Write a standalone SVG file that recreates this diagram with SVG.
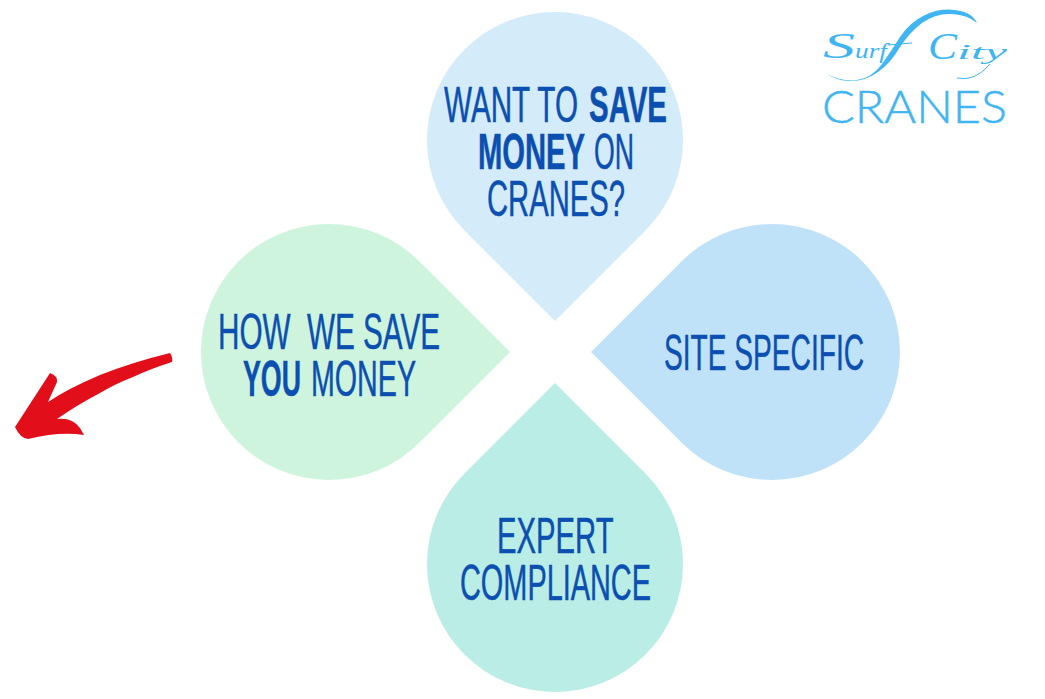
<svg xmlns="http://www.w3.org/2000/svg" width="1045" height="699" viewBox="0 0 1045 699">
<style>
.t{font-family:"Liberation Sans",Arial,sans-serif;font-size:50px;fill:#0b4fb1;stroke:#0b4fb1;stroke-width:.5px}
.b{font-weight:700}
.logo{fill:#3fb5f1}
.s{font-family:"Liberation Serif","Times New Roman",serif;font-style:italic;fill:#3fb5f1}
.l{fill:none;stroke:#3fb5f1;stroke-width:1}
</style>
<rect width="1045" height="699" fill="#ffffff"/>
<g id="node-top">
<path d="M555 321 L464.500 230.500 A128 128 0 1 1 645.500 230.500 Z" fill="#d4ebfa"/>
<text class="t"><tspan x="444" y="122" textLength="134" lengthAdjust="spacingAndGlyphs">WANT TO</tspan> <tspan class="b" x="589" y="122" textLength="78" lengthAdjust="spacingAndGlyphs">SAVE</tspan> <tspan class="b" x="478" y="169" textLength="107" lengthAdjust="spacingAndGlyphs">MONEY</tspan> <tspan x="594" y="169" textLength="40" lengthAdjust="spacingAndGlyphs">ON</tspan> <tspan x="487" y="216" textLength="138" lengthAdjust="spacingAndGlyphs">CRANES?</tspan></text>
</g>
<g id="node-right">
<path d="M591 352 L681.500 261.500 A128 128 0 1 1 681.500 442.500 Z" fill="#c0e2f9"/>
<text class="t" x="664" y="370" textLength="200" lengthAdjust="spacingAndGlyphs">SITE SPECIFIC</text>
</g>
<g id="node-left">
<path d="M510 352 L419.500 261.500 A128 128 0 1 0 419.500 442.500 Z" fill="#cff4dd"/>
<text class="t" xml:space="preserve"><tspan x="218" y="349" textLength="222" lengthAdjust="spacingAndGlyphs">HOW  WE SAVE</tspan> <tspan class="b" x="243" y="396" textLength="58" lengthAdjust="spacingAndGlyphs">YOU</tspan> <tspan x="311" y="396" textLength="105" lengthAdjust="spacingAndGlyphs">MONEY</tspan></text>
</g>
<g id="node-bottom">
<path d="M555 383 L464.500 473.500 A128 128 0 1 0 645.500 473.500 Z" fill="#baede6"/>
<text class="t"><tspan x="497" y="553" textLength="116" lengthAdjust="spacingAndGlyphs">EXPERT</tspan> <tspan x="460" y="600" textLength="191" lengthAdjust="spacingAndGlyphs">COMPLIANCE</tspan></text>
</g>
<g id="connectors">
<path d="M170 353 Q173 357 172 362 Q150 369 133 377 Q115 384 100 393 Q77 405 57 419 Q72 417 80 428 L84 435 Q60 431 28 439 Q20 438 15 427 L50 373 Q58 376 57 382 L48 402 Q67 389 100 375 Q133 362 170 353 Z" fill="#e20f1a"/>
</g>
<g id="logo">
<text class="s"><tspan x="823" y="58" font-size="36" textLength="32" lengthAdjust="spacingAndGlyphs">S</tspan><tspan x="855" y="58" font-size="22" textLength="32" lengthAdjust="spacingAndGlyphs">urf</tspan> <tspan x="928" y="59" font-size="38" textLength="29" lengthAdjust="spacingAndGlyphs">C</tspan><tspan x="957" y="59" font-size="22" textLength="50" lengthAdjust="spacingAndGlyphs">ity</tspan></text>
<path d="M827 74 Q842 82 857 80 Q872 78 882 64 Q892 50 900 37 Q910 22 925 15 Q940 8 955 10 Q972 12 977 23 Q968 15 952 14 Q936 13 922 23 Q910 32 900 47 Q890 64 878 72 Q864 82 848 81 Q836 80 827 74 Z" class="logo"/>
<path d="M888 45 L912 43" class="l"/>
<path d="M957 78 Q975 82 990 64" class="l"/>
<text x="822" y="123" font-family="Lato,'Liberation Sans',sans-serif" font-weight="300" font-size="46" class="logo" stroke="#3fb5f1" stroke-width=".5" textLength="185" lengthAdjust="spacingAndGlyphs">CRANES</text>
</g>
</svg>
